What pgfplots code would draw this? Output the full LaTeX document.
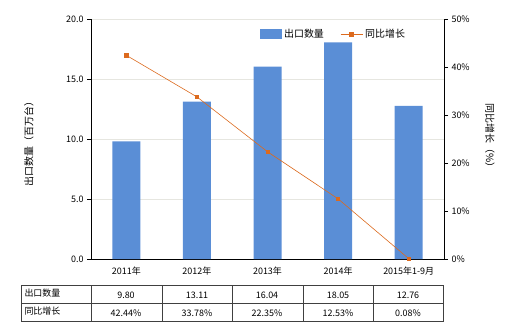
\documentclass[border=0pt]{standalone}
\usepackage{pgfplots}
\pgfplotsset{compat=1.18}
\usepackage{fontspec}
\setmainfont{Noto Sans CJK SC}
\definecolor{barc}{HTML}{5A8ED6}
\definecolor{linec}{HTML}{DC6A1E}
\definecolor{gridc}{HTML}{E6E6E0}
\begin{document}
\begin{tikzpicture}[x=1bp,y=-1bp,font=\fontsize{9}{11}\selectfont]
\useasboundingbox (0,0) rectangle (520,330);
\begin{axis}[at={(91bp,-259bp)},anchor=south west,scale only axis,
  width=353bp,height=240bp,
  xmin=-0.5,xmax=4.5,ymin=0,ymax=20,
  axis y line*=left, axis x line*=bottom,
  ytick={0,5,10,15,20},
  yticklabel style={/pgf/number format/fixed,/pgf/number format/fixed zerofill,/pgf/number format/precision=1},
  /pgf/number format/assume math mode=true,
  xtick={0,1,2,3,4},
  xticklabels={2011年,2012年,2013年,2014年,2015年1-9月},
  tick align=outside, major tick length=4bp,
  xtick style={draw=none},
  ymajorgrids, grid style={gridc,line width=0.8pt},
  axis line style={line width=0.8pt},
  tick style={line width=0.8pt,black},
  ticklabel style={font=\fontsize{9}{11}\selectfont},
  ylabel={出口数量（百万台）},
  every axis y label/.style={at={(rel axis cs:-0.176,0.49)},rotate=90,anchor=center,font=\fontsize{10}{12}\selectfont},
]
\addplot[ybar,bar width=28bp,fill=barc,draw=none] coordinates {(0,9.80) (1,13.11) (2,16.04) (3,18.05) (4,12.76)};
\end{axis}
\begin{axis}[at={(91bp,-259bp)},anchor=south west,scale only axis,
  width=353bp,height=240bp,
  xmin=-0.5,xmax=4.5,ymin=0,ymax=50,
  axis y line*=right, axis x line=none,
  ytick={0,10,20,30,40,50},
  yticklabel={\pgfmathprintnumber{\tick}\%},
  /pgf/number format/assume math mode=true,
  tick align=outside, major tick length=4bp,
  axis line style={line width=0.8pt},
  tick style={line width=0.8pt,black},
  ticklabel style={font=\fontsize{9}{11}\selectfont},
  legend style={draw=none,fill=none,at={(0.47,0.975)},anchor=north west,font=\fontsize{10}{12}\selectfont,legend columns=2,/tikz/every even column/.append style={column sep=14bp}},
]
\addlegendimage{area legend,fill=barc,draw=none,legend image code/.code={\fill[barc] (0bp,-5bp) rectangle (22bp,5bp);}}
\addlegendentry{出口数量}
\addlegendimage{linec,line width=1pt,legend image code/.code={\draw[linec,line width=1.2pt] (0bp,0bp) -- (22bp,0bp); \fill[linec] (9bp,-2bp) rectangle (13bp,2bp);}}
\addlegendentry{同比增长}
\addplot[linec,line width=0.6pt,mark=square*,mark size=1.6pt,forget plot] coordinates {(0,42.44) (1,33.78) (2,22.35) (3,12.53) (4,0.08)};
\end{axis}
\node[rotate=-90,font=\fontsize{10}{12}\selectfont] at (490,138) {同比增长（\%）};
% data table
\draw[line width=0.6pt,black!75] (21,285) rectangle (443,321);
\draw[line width=0.6pt,black!75] (21,303) -- (443,303);
\foreach \xx in {91,162,232,303,373} {\draw[line width=0.6pt,black!75] (\xx,285) -- (\xx,321);}
\node[anchor=west] at (21,293.5) {出口数量};
\node[anchor=west] at (21,311.5) {同比增长};
\foreach \xx/\v in {126/9.80,197/13.11,267/16.04,338/18.05,408/12.76} {\node at (\xx,295) {\v};}
\foreach \xx/\v in {126/42.44\%,197/33.78\%,267/22.35\%,338/12.53\%,408/0.08\%} {\node at (\xx,313) {\v};}
\end{tikzpicture}
\end{document}
